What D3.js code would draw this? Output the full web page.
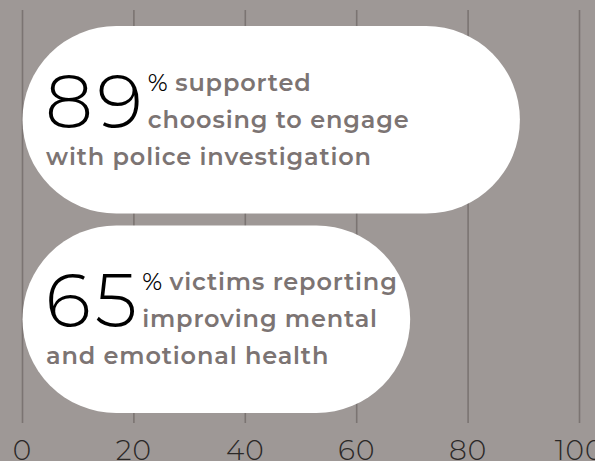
<!DOCTYPE html>
<html>
<head>
<meta charset="utf-8">
<script src="https://cdn.jsdelivr.net/npm/d3@7"></script>
<style>
  body { margin: 0; background: #9e9896; }
  svg { display: block; }
</style>
</head>
<body>
<div id="chart"></div>
<script>
const categories = ["police", "health"];
const shownValues = [89, 65];          // big numbers printed in the pills
const barEnds = [89.3, 69.6];          // where each pill ends on the axis
const firstLines = ["% supported", "% victims reporting"];
const secondLines = ["choosing to engage", "improving mental"];
const thirdLines = ["with police investigation", "and emotional health"];
const ticks = [0, 20, 40, 60, 80, 100];

const width = 595, height = 461;

const svg = d3.select("#chart")
  .append("svg")
    .attr("width", width)
    .attr("height", height);

const x = d3.scaleLinear()
  .domain([0, 100])
  .range([22.5, 579.5]);

const y = d3.scaleBand()
  .domain(categories)
  .range([26, 413])
  .paddingInner(0.06);

// grid lines
svg.selectAll(".grid")
  .data(ticks)
  .join("line")
    .attr("class", "grid")
    .attr("x1", d => x(d))
    .attr("x2", d => x(d))
    .attr("y1", 10)
    .attr("y2", 423)
    .style("stroke", "#7b7472")
    .style("stroke-width", 1.6);

// tick labels (the bottom of them falls off the picture, as in the original)
svg.selectAll(".tick-label")
  .data(ticks)
  .join("text")
    .attr("class", "tick-label")
    .attr("x", d => x(d))
    .attr("y", 460)
    .attr("text-anchor", "middle")
    .style("font-family", "Montserrat, 'Open Sans', sans-serif")
    .style("font-weight", 300)
    .style("font-size", "28px")
    .style("letter-spacing", "1px")
    .style("fill", "#2b2827")
    .text(d => d);

const rows = categories.map((c, i) => ({
  cat: c,
  shown: shownValues[i],
  end: barEnds[i],
  l1: firstLines[i],
  l2: secondLines[i],
  l3: thirdLines[i]
}));

const g = svg.selectAll(".row")
  .data(rows)
  .join("g")
    .attr("class", "row")
    .attr("transform", d => `translate(0,${y(d.cat)})`);

g.append("rect")
  .attr("x", x(0))
  .attr("width", d => x(d.end) - x(0))
  .attr("height", y.bandwidth())
  .attr("rx", y.bandwidth() / 2)
  .attr("ry", y.bandwidth() / 2)
  .style("fill", "#ffffff");

const textFont = "Montserrat, 'Open Sans', sans-serif";
const grey = "#7c7473";

g.append("text")
  .attr("class", "big")
  .attr("x", 45)
  .attr("y", 102)
  .style("font-family", textFont)
  .style("font-weight", 300)
  .style("font-size", "76px")
  .style("letter-spacing", "4px")
  .style("fill", "#000")
  .text(d => d.shown);

function line(row, xPos, yPos) {
  return row.append("text")
    .attr("x", xPos)
    .attr("y", yPos)
    .style("font-family", textFont)
    .style("font-weight", 600)
    .style("font-size", "24px")
    .style("letter-spacing", "0.85px")
    .style("fill", grey);
}

g.each(function(d) {
  const row = d3.select(this);
  const numW = row.select(".big").node().getComputedTextLength();
  const tx = 45 + numW + 1;

  const t1 = line(row, tx, 65);
  t1.append("tspan").style("fill", "#000").style("font-weight", 400)
    .style("letter-spacing", "0px").text("%");
  t1.append("tspan").text(d.l1.slice(1));

  line(row, tx, 102).text(d.l2);
  line(row, 46, 139).text(d.l3);
});
</script>
</body>
</html>
